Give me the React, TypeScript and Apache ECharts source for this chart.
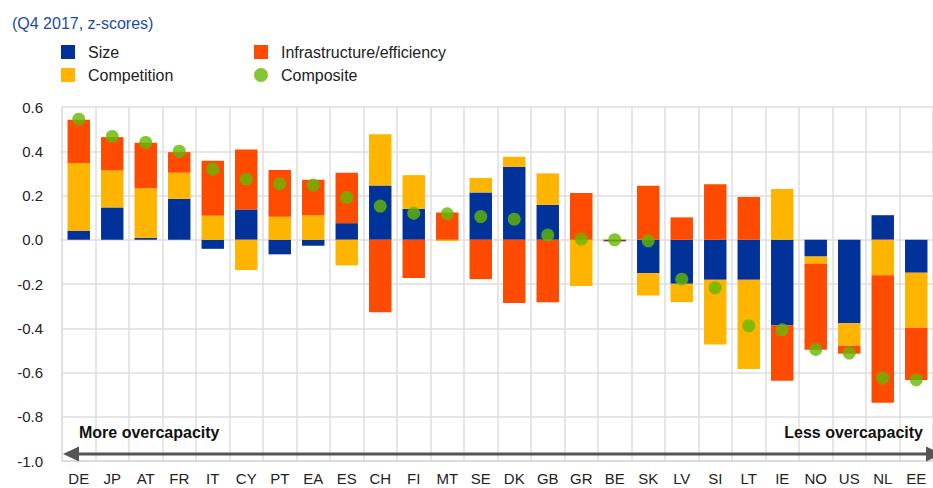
import React, { useEffect, useRef } from "react";
import * as echarts from "echarts";

const categories = ["DE","JP","AT","FR","IT","CY","PT","EA","ES","CH","FI","MT","SE","DK","GB","GR","BE","SK","LV","SI","LT","IE","NO","US","NL","EE"];
const sizeValues = [0.041,0.146,0.009,0.185,-0.041,0.137,-0.066,-0.027,0.075,0.245,0.140,0,0.214,0.330,0.158,0,-0.005,-0.151,-0.199,-0.181,-0.181,-0.386,-0.076,-0.377,0.111,-0.149];
const competitionValues = [0.306,0.167,0.224,0.118,0.108,-0.137,0.104,0.111,-0.116,0.232,0.152,-0.006,0.065,0.045,0.142,-0.209,0.004,-0.101,-0.083,-0.293,-0.403,0.229,-0.033,-0.102,-0.161,-0.249];
const infraValues = [0.195,0.151,0.205,0.093,0.249,0.271,0.211,0.160,0.228,-0.328,-0.173,0.123,-0.178,-0.286,-0.283,0.211,-0.003,0.244,0.101,0.251,0.193,-0.251,-0.388,-0.036,-0.576,-0.236];
const compositeValues = [0.545,0.467,0.440,0.400,0.319,0.274,0.252,0.247,0.191,0.152,0.120,0.117,0.105,0.093,0.021,0.003,0.000,-0.005,-0.178,-0.217,-0.389,-0.407,-0.496,-0.512,-0.625,-0.633];
const yTicks = { min: -1, max: 0.6, interval: 0.2 };

const BLUE = "#003299";
const YELLOW = "#ffb400";
const ORANGE = "#ff4b00";
const GREEN = "#65b800";
const FONT = "'Liberation Sans', Arial, sans-serif";

export default function App() {
  const ref = useRef<HTMLDivElement>(null);
  useEffect(() => {
    const chart = echarts.init(ref.current!, undefined, { renderer: "svg" });
    const barBase = {
      type: "bar",
      stack: "total",
      barWidth: "67%",
      emphasis: { disabled: true },
    };
    const legendText = { fontSize: 16, color: "#222", fontFamily: FONT, padding: [0, 0, 0, 8] };
    chart.setOption({
      animation: false,
      textStyle: { fontFamily: FONT },
      title: {
        text: "(Q4 2017, z-scores)",
        left: 7,
        top: 10,
        textStyle: { color: "#1a4ba8", fontSize: 16, fontWeight: "normal", fontFamily: FONT },
      },
      legend: [
        {
          data: [{ name: "Size", icon: "rect" }, { name: "Competition", icon: "rect" }],
          orient: "vertical",
          left: 61,
          top: 44,
          itemWidth: 14,
          itemHeight: 14,
          itemGap: 7,
          padding: 0,
          textStyle: legendText,
        },
        {
          data: [{ name: "Infrastructure/efficiency", icon: "rect" }, { name: "Composite", icon: "circle" }],
          orient: "vertical",
          left: 254,
          top: 44,
          itemWidth: 14,
          itemHeight: 14,
          itemGap: 7,
          padding: 0,
          textStyle: legendText,
        },
      ],
      grid: { left: 62, top: 107, width: 884, height: 354, containLabel: false },
      xAxis: {
        type: "category",
        data: categories,
        position: "bottom",
        axisLine: { show: true, onZero: false, lineStyle: { color: "#d9d9d9", width: 1.5 } },
        axisTick: { show: false },
        splitLine: { show: true, interval: 0, lineStyle: { color: "#dedede", width: 1.5 } },
        axisLabel: { color: "#222", fontSize: 15, margin: 10, interval: 0, fontFamily: FONT },
      },
      yAxis: {
        type: "value",
        min: yTicks.min,
        max: yTicks.max,
        interval: yTicks.interval,
        axisLine: { show: true, lineStyle: { color: "#dedede", width: 1.5 } },
        axisTick: { show: false },
        splitLine: { show: true, lineStyle: { color: "#dedede", width: 1.5 } },
        axisLabel: {
          color: "#222",
          fontSize: 15,
          margin: 19,
          fontFamily: FONT,
          formatter: (v: number) => (Math.abs(v) < 1e-9 ? "0.0" : v.toFixed(1)),
        },
      },
      series: [
        { ...barBase, name: "Size", data: sizeValues, itemStyle: { color: BLUE } },
        { ...barBase, name: "Competition", data: competitionValues, itemStyle: { color: YELLOW } },
        { ...barBase, name: "Infrastructure/efficiency", data: infraValues, itemStyle: { color: ORANGE } },
        {
          type: "scatter",
          name: "Composite",
          data: compositeValues,
          symbol: "circle",
          symbolSize: 13,
          z: 5,
          itemStyle: { color: GREEN },
          emphasis: { disabled: true },
        },
      ],
      graphic: [
        { type: "line", shape: { x1: 74, y1: 454, x2: 930, y2: 454 }, style: { stroke: "#555", lineWidth: 3 }, z: 10 },
        { type: "polygon", shape: { points: [[63, 454], [79, 446.5], [79, 461.5]] }, style: { fill: "#555" }, z: 10 },
        { type: "polygon", shape: { points: [[942, 454], [926, 446.5], [926, 461.5]] }, style: { fill: "#555" }, z: 10 },
        {
          type: "text",
          left: 79,
          top: 424,
          style: { text: "More overcapacity", fontSize: 16, fontWeight: "bold", fill: "#111", fontFamily: FONT },
          z: 10,
        },
        {
          type: "text",
          right: 10,
          top: 424,
          style: { text: "Less overcapacity", fontSize: 16, fontWeight: "bold", fill: "#111", fontFamily: FONT },
          z: 10,
        },
      ],
    });
    return () => chart.dispose();
  }, []);
  return <div ref={ref} style={{ position: "absolute", left: 0, top: 0, width: 933, height: 488 }} />;
}
